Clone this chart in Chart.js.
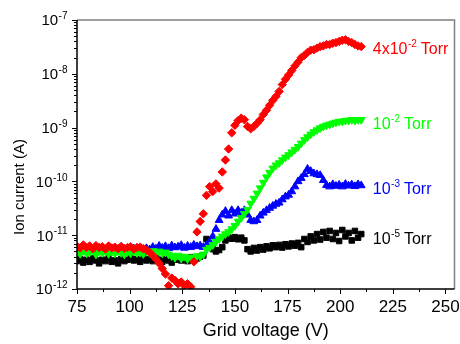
<!DOCTYPE html>
<html>
<head>
<meta charset="utf-8">
<script src="https://cdn.jsdelivr.net/npm/chart.js@4.4.0/dist/chart.umd.min.js"></script>
<style>
  html, body { margin: 0; padding: 0; background: #fff; }
</style>
</head>
<body>
<canvas id="ionChart" width="460" height="344"></canvas>
<script>
// Grid voltage (V), shared by all four pressures
const voltage = [
  75, 76.5, 78, 79.5, 81, 82.5, 84, 85.5, 87, 88.5,
  90, 91.5, 93, 94.5, 96, 97.5, 99, 100.5, 102, 103.5,
  105, 106.5, 108, 109.5, 111, 112.5, 114, 115.5, 117, 118.5,
  120, 121.5, 123, 124.5, 126, 127.5, 129, 130.5, 132, 133.5,
  135, 136.5, 138, 139.5, 141, 142.5, 144, 145.5, 147, 148.5,
  150, 151.5, 153, 154.5, 156, 157.5, 159, 160.5, 162, 163.5,
  165, 166.5, 168, 169.5, 171, 172.5, 174, 175.5, 177, 178.5,
  180, 181.5, 183, 184.5, 186, 187.5, 189, 190.5, 192, 193.5,
  195, 196.5, 198, 199.5, 201, 202.5, 204, 205.5, 207, 208.5,
  210
];

// Ion current (A) at 4x10^-2 Torr
const current4e2 = [
  6.2e-12, 5.8e-12, 6.6e-12, 5.9e-12, 6.3e-12, 5.6e-12, 6.4e-12, 5.9e-12, 6.1e-12, 5.5e-12,
  6.3e-12, 5.8e-12, 6.0e-12, 5.6e-12, 6.2e-12, 5.7e-12, 5.9e-12, 6.1e-12, 5.5e-12, 5.9e-12,
  6.0e-12, 5.6e-12, 5.3e-12, 4.8e-12, 4.2e-12, 3.6e-12, 3.0e-12, 2.4e-12, 1.9e-12, 1.15e-12,
  1.6e-12, 1.45e-12, 1.25e-12, 1.35e-12, 1.15e-12, 1.25e-12, 1.1e-12, 3.2e-12, 1.15e-11, 1.8e-11,
  2.5e-11, 5.5e-11, 8.0e-11, 6.5e-11, 9.0e-11, 7.5e-11, 1.5e-10, 2.5e-10, 4.0e-10, 8.0e-10,
  1.1e-9, 1.35e-9, 1.5e-9, 1.4e-9, 1.05e-9, 9.5e-10, 1.05e-9, 1.2e-9, 1.4e-9, 1.75e-9,
  2.1e-9, 2.6e-9, 3.2e-9, 3.8e-9, 4.7e-9, 6.3e-9, 7.9e-9, 9.5e-9, 1.15e-8, 1.4e-8,
  1.65e-8, 2.0e-8, 2.2e-8, 2.5e-8, 2.75e-8, 2.8e-8, 3.0e-8, 3.2e-8, 3.3e-8, 3.5e-8,
  3.5e-8, 3.7e-8, 3.8e-8, 4.0e-8, 4.2e-8, 4.3e-8, 4.0e-8, 3.8e-8, 3.5e-8, 3.3e-8,
  3.2e-8
];

// Ion current (A) at 10^-2 Torr
const current1e2 = [
  4.9e-12, 4.5e-12, 5.1e-12, 4.6e-12, 4.8e-12, 5.2e-12, 4.4e-12, 4.9e-12, 4.7e-12, 5.0e-12,
  4.5e-12, 4.9e-12, 4.6e-12, 5.1e-12, 4.7e-12, 4.4e-12, 4.9e-12, 4.6e-12, 5.0e-12, 4.7e-12,
  4.8e-12, 4.5e-12, 5.0e-12, 4.7e-12, 5.1e-12, 4.8e-12, 5.0e-12, 4.6e-12, 4.8e-12, 4.4e-12,
  4.1e-12, 3.8e-12, 4.2e-12, 3.7e-12, 4.0e-12, 3.6e-12, 3.9e-12, 3.7e-12, 4.1e-12, 4.0e-12,
  4.4e-12, 5.4e-12, 5.9e-12, 6.6e-12, 7.6e-12, 8.5e-12, 9.5e-12, 1.05e-11, 1.15e-11, 1.3e-11,
  1.5e-11, 1.8e-11, 2.1e-11, 2.5e-11, 3.0e-11, 3.9e-11, 4.8e-11, 6.0e-11, 7.5e-11, 9.5e-11,
  1.2e-10, 1.45e-10, 1.75e-10, 2.0e-10, 2.2e-10, 2.5e-10, 2.8e-10, 3.1e-10, 3.5e-10, 3.9e-10,
  4.4e-10, 5.1e-10, 5.9e-10, 6.7e-10, 7.5e-10, 8.3e-10, 9.0e-10, 9.8e-10, 1.05e-9, 1.1e-9,
  1.15e-9, 1.2e-9, 1.25e-9, 1.3e-9, 1.3e-9, 1.35e-9, 1.35e-9, 1.4e-9, 1.35e-9, 1.4e-9,
  1.4e-9
];

// Ion current (A) at 10^-3 Torr
const current1e3 = [
  5.3e-12, 5.0e-12, 5.6e-12, 5.2e-12, 5.5e-12, 5.0e-12, 5.4e-12, 5.7e-12, 5.1e-12, 5.4e-12,
  5.2e-12, 5.6e-12, 5.0e-12, 5.3e-12, 5.5e-12, 5.1e-12, 5.4e-12, 5.2e-12, 5.6e-12, 5.3e-12,
  5.5e-12, 5.1e-12, 5.7e-12, 5.4e-12, 6.0e-12, 5.6e-12, 6.3e-12, 5.8e-12, 6.2e-12, 5.7e-12,
  6.4e-12, 5.9e-12, 6.1e-12, 6.5e-12, 5.8e-12, 6.3e-12, 6.0e-12, 6.6e-12, 6.2e-12, 6.4e-12,
  6.0e-12, 6.5e-12, 7.5e-12, 9.5e-12, 1.3e-11, 1.9e-11, 2.4e-11, 2.8e-11, 2.3e-11, 2.9e-11,
  2.5e-11, 2.9e-11, 2.6e-11, 2.9e-11, 2.4e-11, 1.9e-11, 1.8e-11, 1.9e-11, 2.3e-11, 2.6e-11,
  2.9e-11, 3.2e-11, 3.5e-11, 3.8e-11, 4.0e-11, 4.6e-11, 5.2e-11, 5.6e-11, 6.5e-11, 8.0e-11,
  1.0e-10, 1.15e-10, 1.35e-10, 1.7e-10, 1.55e-10, 1.4e-10, 1.35e-10, 1.3e-10, 1.05e-10, 8.5e-11,
  8.0e-11, 8.8e-11, 8.2e-11, 8.6e-11, 8.0e-11, 8.9e-11, 8.3e-11, 8.7e-11, 8.1e-11, 8.8e-11,
  8.4e-11
];

// Ion current (A) at 10^-5 Torr
const current1e5 = [
  3.3e-12, 3.6e-12, 3.1e-12, 3.5e-12, 3.2e-12, 3.7e-12, 3.4e-12, 3.0e-12, 3.5e-12, 3.3e-12,
  3.8e-12, 3.2e-12, 3.4e-12, 3.0e-12, 3.6e-12, 3.3e-12, 3.5e-12, 3.9e-12, 3.4e-12, 3.6e-12,
  3.2e-12, 3.7e-12, 3.4e-12, 3.6e-12, 3.3e-12, 3.8e-12, 3.5e-12, 3.2e-12, 3.6e-12, 3.4e-12,
  3.1e-12, 3.5e-12, 3.8e-12, 3.4e-12, 3.7e-12, 3.3e-12, 3.9e-12, 3.5e-12, 3.7e-12, 4.0e-12,
  4.2e-12, 8.5e-12, 6.5e-12, 5.5e-12, 5.0e-12, 5.3e-12, 6.0e-12, 8.0e-12, 9.0e-12, 8.6e-12,
  9.2e-12, 8.4e-12, 9.0e-12, 8.0e-12, 5.5e-12, 5.0e-12, 5.8e-12, 5.2e-12, 6.0e-12, 5.4e-12,
  6.2e-12, 5.7e-12, 6.5e-12, 6.0e-12, 6.6e-12, 5.9e-12, 6.8e-12, 6.2e-12, 7.0e-12, 6.4e-12,
  7.2e-12, 6.0e-12, 8.5e-12, 7.5e-12, 9.5e-12, 8.0e-12, 1.05e-11, 8.3e-12, 1.15e-11, 9.0e-12,
  1.2e-11, 8.5e-12, 1.1e-11, 7.8e-12, 1.25e-11, 9.5e-12, 1.1e-11, 8.0e-12, 1.2e-11, 9.0e-12,
  1.05e-11
];

// Axis ticks
const xTicks = [75, 100, 125, 150, 175, 200, 225, 250];
const yExponents = [-12, -11, -10, -9, -8, -7];

// Series labels: [pre, superscript, post]
const pressureLabels = [
  ['4x10', '-2', ' Torr'],
  ['10', '-2', ' Torr'],
  ['10', '-3', ' Torr'],
  ['10', '-5', ' Torr']
];

const FONT = '"Liberation Sans", Arial, Helvetica, sans-serif';
const colors = ['#ff0000', '#00ff00', '#0000ff', '#000000'];
// where the labels sit (voltage, current)
const labelAnchors = [[215.5, 3.0e-8], [215.5, 1.23e-9], [215.5, 7.6e-11], [215.5, 8.9e-12]];

function points(values) {
  return voltage.map((v, i) => ({ x: v, y: values[i] }));
}

// text with a raised exponent, e.g. 10^-7
function drawPower(ctx, pre, exp, post, x, y, size, align, color) {
  const sup = Math.round(size * 0.64);
  ctx.fillStyle = color;
  ctx.textAlign = 'left';
  ctx.textBaseline = 'alphabetic';
  ctx.font = size + 'px ' + FONT;
  const w1 = ctx.measureText(pre).width;
  const w3 = ctx.measureText(post).width;
  ctx.font = sup + 'px ' + FONT;
  const w2 = ctx.measureText(exp).width;
  const sx = align === 'right' ? x - (w1 + w2 + w3) : x;
  const base = y + size * 0.36;
  ctx.font = size + 'px ' + FONT;
  ctx.fillText(pre, sx, base);
  ctx.font = sup + 'px ' + FONT;
  ctx.fillText(exp, sx + w1 + 0.5, base - size * 0.42);
  if (post) {
    ctx.font = size + 'px ' + FONT;
    ctx.fillText(post, sx + w1 + w2, base);
  }
}

const axesPlugin = {
  id: 'originAxes',
  afterDraw(chart) {
    const { ctx, chartArea: a } = chart;
    const xs = chart.scales.x, ys = chart.scales.y;
    ctx.save();

    // frame
    ctx.lineWidth = 1.5;
    ctx.strokeStyle = '#808080';
    ctx.beginPath();
    ctx.moveTo(a.left, a.top);
    ctx.lineTo(a.right, a.top);
    ctx.lineTo(a.right, a.bottom);
    ctx.stroke();
    ctx.strokeStyle = '#000';
    ctx.beginPath();
    ctx.moveTo(a.left, a.top);
    ctx.lineTo(a.left, a.bottom);
    ctx.lineTo(a.right, a.bottom);
    ctx.stroke();

    // x ticks, major + minor
    ctx.lineWidth = 1;
    ctx.beginPath();
    xTicks.forEach((t, i) => {
      const px = Math.round(xs.getPixelForValue(t)) + 0.5;
      ctx.moveTo(px, a.bottom);
      ctx.lineTo(px, a.bottom + 5);
      if (i < xTicks.length - 1) {
        const mx = Math.round(xs.getPixelForValue((t + xTicks[i + 1]) / 2)) + 0.5;
        ctx.moveTo(mx, a.bottom);
        ctx.lineTo(mx, a.bottom + 3);
      }
    });
    // y ticks, decades + log minors
    yExponents.forEach((e, i) => {
      const py = Math.round(ys.getPixelForValue(Math.pow(10, e))) + 0.5;
      ctx.moveTo(a.left - 5, py);
      ctx.lineTo(a.left, py);
      if (i < yExponents.length - 1) {
        for (let m = 2; m <= 9; m++) {
          const my = Math.round(ys.getPixelForValue(m * Math.pow(10, e))) + 0.5;
          ctx.moveTo(a.left - 3, my);
          ctx.lineTo(a.left, my);
        }
      }
    });
    ctx.stroke();

    // x tick labels
    ctx.fillStyle = '#000';
    ctx.font = '17px ' + FONT;
    ctx.textAlign = 'center';
    ctx.textBaseline = 'middle';
    xTicks.forEach(t => ctx.fillText(String(t), xs.getPixelForValue(t), a.bottom + 18));

    // y tick labels
    yExponents.forEach(e => {
      drawPower(ctx, '10', String(e), '', a.left - 10, ys.getPixelForValue(Math.pow(10, e)), 15, 'right', '#000');
    });

    // axis titles
    ctx.fillStyle = '#000';
    ctx.font = '18px ' + FONT;
    ctx.textAlign = 'center';
    ctx.textBaseline = 'middle';
    ctx.fillText('Grid voltage (V)', (a.left + a.right) / 2, 331);
    ctx.save();
    ctx.translate(20, 187);
    ctx.rotate(-Math.PI / 2);
    ctx.font = '15px ' + FONT;
    ctx.fillText('Ion current (A)', 0, 0);
    ctx.restore();

    // pressure labels
    pressureLabels.forEach((p, i) => {
      const [vx, vy] = labelAnchors[i];
      drawPower(ctx, p[0], p[1], p[2], xs.getPixelForValue(vx), ys.getPixelForValue(vy), 16, 'left', colors[i]);
    });

    ctx.restore();
  }
};

const ctx = document.getElementById('ionChart').getContext('2d');
const ionChart = new Chart(ctx, {
  type: 'scatter',
  data: {
    datasets: [
      { label: '4x10-2 Torr', data: points(current4e2), pointStyle: 'rectRot', pointRadius: 4.2,
        backgroundColor: colors[0], borderColor: colors[0], borderWidth: 1 },
      { label: '10-2 Torr', data: points(current1e2), pointStyle: 'triangle', rotation: 180, pointRadius: 4.5,
        backgroundColor: colors[1], borderColor: colors[1], borderWidth: 1 },
      { label: '10-3 Torr', data: points(current1e3), pointStyle: 'triangle', pointRadius: 4.5,
        backgroundColor: colors[2], borderColor: colors[2], borderWidth: 1 },
      { label: '10-5 Torr', data: points(current1e5), pointStyle: 'rect', pointRadius: 3.9,
        backgroundColor: colors[3], borderColor: colors[3], borderWidth: 1 }
    ]
  },
  options: {
    responsive: false,
    animation: false,
    layout: { padding: { left: 77, right: 5, top: 20, bottom: 55 } },
    plugins: {
      legend: { display: false },
      tooltip: { enabled: false }
    },
    scales: {
      x: { type: 'linear', min: 75, max: 254.3, display: false },
      y: { type: 'logarithmic', min: 1e-12, max: 1e-7, display: false }
    }
  },
  plugins: [axesPlugin]
});
</script>
</body>
</html>
